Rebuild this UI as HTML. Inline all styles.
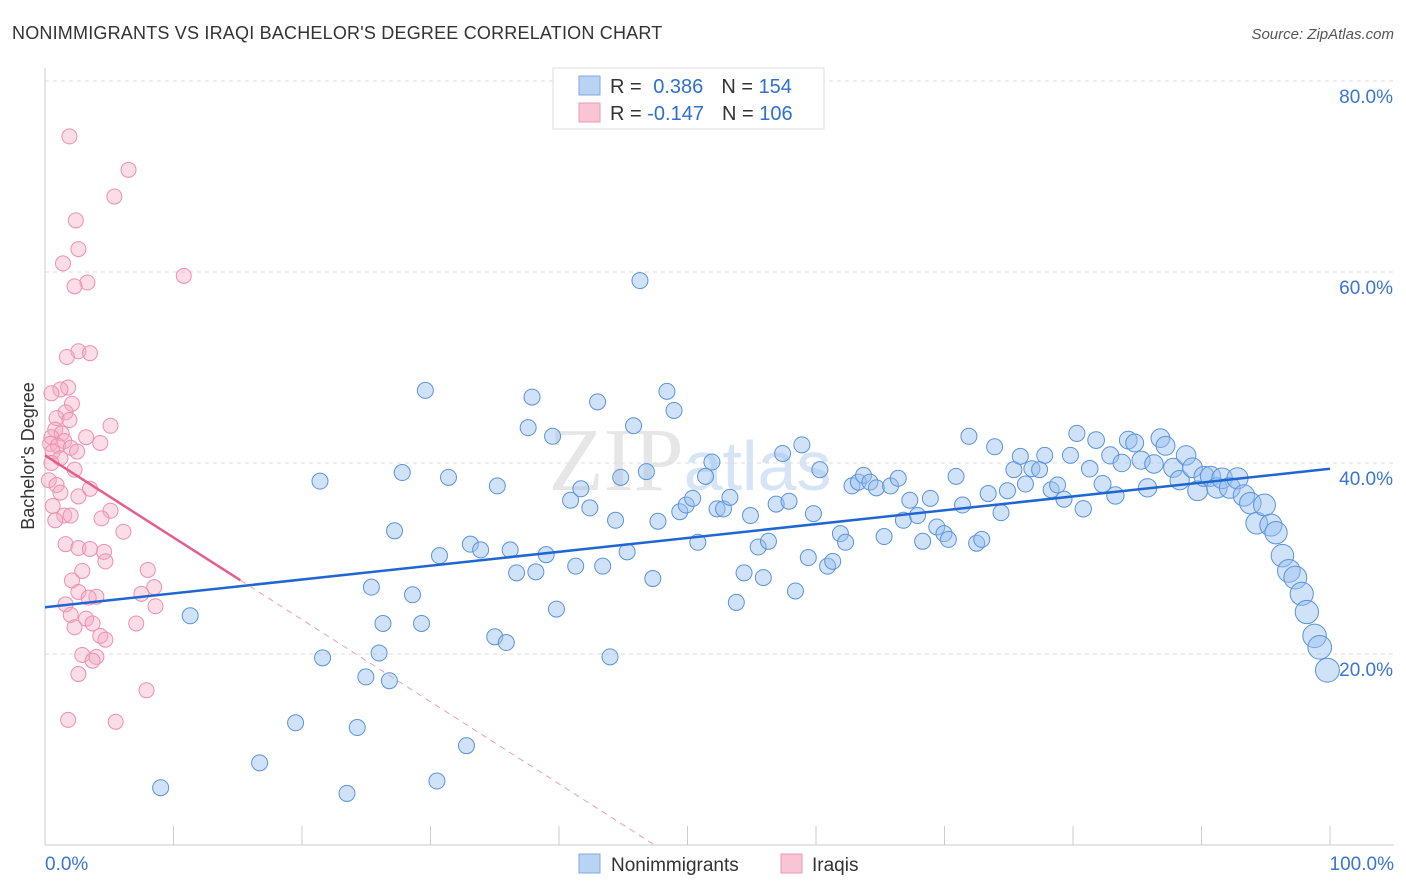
<!DOCTYPE html>
<html><head><meta charset="utf-8"><style>
body{margin:0;background:#fff;font-family:"Liberation Sans",sans-serif;}
svg{display:block}
</style></head><body>
<svg id="chart" width="1406" height="892" xmlns="http://www.w3.org/2000/svg">
<text x="12" y="39" font-size="18" fill="#333" letter-spacing="0.2">NONIMMIGRANTS VS IRAQI BACHELOR'S DEGREE CORRELATION CHART</text>
<text x="1394" y="39" font-size="15" fill="#555" font-style="italic" text-anchor="end">Source: ZipAtlas.com</text>
<text x="690" y="490" font-size="90" fill="#e6e6e6" text-anchor="middle" font-family="Liberation Serif,serif">ZIP<tspan font-family="Liberation Sans,sans-serif" font-size="70" fill="#d6e4f5">atlas</tspan></text>
<g id="grid"></g><g id="axes"></g><g id="marks"></g>
<text transform="translate(34,456) rotate(-90)" font-size="18" fill="#333" text-anchor="middle">Bachelor's Degree</text>
<g>
<rect x="553" y="68" width="271" height="61" fill="#fff" stroke="#ddd"/>
<rect x="579" y="76" width="21" height="19" fill="#b9d3f3" stroke="#7fa9dd"/>
<rect x="579" y="103" width="21" height="19" fill="#f9c5d5" stroke="#ec9ab4"/>
<text x="610" y="93" font-size="20" fill="#333">R = <tspan fill="#2f6fcf" dx="6">0.386</tspan><tspan fill="#333" dx="18">N = </tspan><tspan fill="#2f6fcf">154</tspan></text>
<text x="610" y="120" font-size="20" fill="#333">R = <tspan fill="#2f6fcf">-0.147</tspan><tspan fill="#333" dx="18">N = </tspan><tspan fill="#2f6fcf">106</tspan></text>
</g>
<g>
<rect x="579" y="854" width="21" height="19" fill="#b9d3f3" stroke="#7fa9dd"/>
<text x="611" y="871" font-size="19" fill="#333">Nonimmigrants</text>
<rect x="781" y="854" width="21" height="19" fill="#f9c5d5" stroke="#ec9ab4"/>
<text x="812" y="871" font-size="19" fill="#333">Iraqis</text>
</g>
</svg>
<script>
const yTicks=[20,40,60,80];
const yTickLabels=["20.0%","40.0%","60.0%","80.0%"];
const xTickVals=[0,10,20,30,40,50,60,70,80,90,100];
const xEndLabels=["0.0%","100.0%"];
const blueX=[9.0,11.3,16.7,19.5,21.4,21.6,23.5,24.3,24.97,25.4,26.0,26.3,26.8,27.2,27.8,28.6,29.3,29.6,30.5,30.7,31.4,32.8,33.1,33.9,35.0,35.2,35.9,36.2,36.7,37.6,37.9,38.2,39.0,39.5,39.8,40.9,41.3,41.7,42.4,43.0,43.4,43.97,44.4,44.8,45.3,45.8,46.3,46.8,47.3,47.7,48.4,48.95,49.4,49.9,50.4,50.8,51.4,51.9,52.3,52.8,53.3,53.8,54.4,54.9,55.5,55.9,56.3,56.9,57.4,57.9,58.4,58.9,59.4,59.8,60.3,60.9,61.3,61.9,62.3,62.8,63.3,63.7,64.2,64.7,65.3,65.8,66.4,66.8,67.3,67.9,68.3,68.9,69.4,69.96,70.3,70.9,71.4,71.9,72.5,72.9,73.4,73.9,74.4,74.9,75.4,75.9,76.3,76.8,77.4,77.8,78.3,78.8,79.3,79.8,80.3,80.8,81.3,81.8,82.3,82.9,83.3,83.8,84.3,84.8,85.3,85.8,86.3,86.8,87.2,87.8,88.3,88.8,89.3,89.7,90.2,90.7,91.2,91.6,92.2,92.8,93.3,93.8,94.3,94.9,95.4,95.8,96.3,96.8,97.3,97.8,98.2,98.8,99.2,99.8];
const blueY=[6.0,24.0,8.6,12.8,38.1,19.6,5.4,12.3,17.6,27.0,20.1,23.2,17.2,32.9,39.0,26.2,23.2,47.6,6.7,30.3,38.5,10.4,31.5,30.9,21.8,37.6,21.2,30.9,28.5,43.7,46.9,28.6,30.4,42.8,24.7,36.1,29.2,37.3,35.3,46.4,29.2,19.7,34.0,38.5,30.7,43.9,59.1,39.1,27.9,33.9,47.5,45.5,34.9,35.6,36.3,31.7,38.6,40.1,35.2,35.2,36.4,25.4,28.5,34.5,31.2,28.0,31.8,35.7,41.0,36.0,26.6,41.9,30.1,34.7,39.3,29.2,29.7,32.6,31.7,37.6,38.0,38.7,38.0,37.4,32.3,37.6,38.4,34.0,36.1,34.5,31.8,36.3,33.3,32.6,32.0,38.6,35.6,42.8,31.6,32.0,36.8,41.7,34.8,37.1,39.3,40.7,37.8,39.4,39.3,40.8,37.2,37.7,36.2,40.8,43.1,35.2,39.4,42.4,37.8,40.8,36.6,40.0,42.4,42.1,40.3,37.4,39.9,42.6,41.8,39.5,38.2,40.8,39.5,37.1,38.6,38.6,37.4,38.4,37.4,38.4,36.6,35.8,33.7,35.6,33.5,32.7,30.3,28.7,28.0,26.3,24.4,21.9,20.7,18.3];
const pinkX=[1.9,6.5,5.4,2.4,2.6,1.4,10.8,3.3,2.3,2.6,3.5,1.7,1.8,1.2,0.5,2.1,1.6,0.9,1.9,5.1,0.8,1.3,0.5,3.2,1.5,0.4,1.0,4.3,0.6,2.0,2.5,1.2,0.5,2.3,0.3,0.9,3.5,2.6,1.2,0.6,5.1,1.5,4.4,2.0,0.8,6.1,1.6,2.6,3.5,4.6,4.7,2.9,8.0,2.1,8.5,2.6,7.5,4.0,3.4,1.6,8.6,2.0,3.2,3.7,2.3,7.1,4.3,4.7,2.9,4.0,3.7,2.6,7.9,1.8,5.5];
const pinkY=[74.2,70.7,67.9,65.4,62.4,60.9,59.6,58.9,58.5,51.7,51.5,51.1,47.9,47.7,47.3,46.2,45.3,44.7,44.5,43.9,43.5,43.1,42.7,42.7,42.3,42.0,41.8,42.1,41.2,41.6,41.2,40.5,40.0,39.3,38.2,37.7,37.3,36.5,36.9,35.5,35.0,34.5,34.2,34.5,34.0,32.8,31.5,31.1,31.0,30.7,29.7,28.7,28.8,27.7,27.0,26.5,26.3,26.0,25.9,25.2,25.0,24.1,23.7,23.2,22.8,23.2,21.9,21.5,19.9,19.7,19.3,17.9,16.2,13.1,12.9];
const blueTrend=[24.9,39.4];
const pinkTrend=[40.8,-0.86];
const pinkSolidEnd=15.2;

const NS="http://www.w3.org/2000/svg";
const X=v=>45+v*12.85, Y=v=>845-v*9.55;
function mk(tag,attrs,parent){const e=document.createElementNS(NS,tag);for(const k in attrs)e.setAttribute(k,attrs[k]);parent.appendChild(e);return e;}
const grid=document.getElementById('grid'),axes=document.getElementById('axes'),marks=document.getElementById('marks');
yTicks.forEach((t,i)=>{
  const l=mk('line',{x1:45,x2:1394,y1:Y(t),y2:Y(t),stroke:'#ddd','stroke-dasharray':'4,4'},grid);
  
  
  const tx=mk('text',{x:1393,y:Y(t)+22,'font-size':19,fill:'#3a75d0','text-anchor':'end'},axes);
  tx.textContent=yTickLabels[i];
  
  
});
const ax=mk('line',{x1:45,x2:45,y1:68,y2:845,stroke:'#ccc'},axes);


const bx=mk('line',{x1:45,x2:1394,y1:845,y2:845,stroke:'#ccc'},axes);


xTickVals.forEach(t=>{
  const l=mk('line',{x1:X(t),x2:X(t),y1:826,y2:845,stroke:'#ccc'},axes);
  
  
});
[[0,'start',45],[100,'end',1394]].forEach((d,i)=>{
  const tx=mk('text',{x:d[2],y:870,'font-size':19,fill:'#3a75d0','text-anchor':d[1]},axes);
  tx.textContent=xEndLabels[i];
  
  
});
pinkX.forEach((x,i)=>{
  const c=mk('circle',{cx:X(x),cy:Y(pinkY[i]),r:7.5,fill:'rgba(246,170,195,0.4)',stroke:'#ee8fae','stroke-width':1},marks);
  
  
});
blueX.forEach((x,i)=>{
  const r=8+Math.max(0,x-80)*0.2;
  const c=mk('circle',{cx:X(x),cy:Y(blueY[i]),r:r,fill:'rgba(150,190,240,0.45)',stroke:'#5a93dc','stroke-width':1},marks);
  
  
});
const bt=mk('line',{x1:X(0),y1:Y(blueTrend[0]),x2:X(100),y2:Y(blueTrend[1]),stroke:'#1f66d1','stroke-width':2.5},marks);


const pz=-pinkTrend[0]/pinkTrend[1];
const pd=mk('line',{x1:X(pinkSolidEnd),y1:Y(pinkTrend[0]+pinkTrend[1]*pinkSolidEnd),x2:X(pz),y2:Y(0),stroke:'#e8a0b8','stroke-width':1,'stroke-dasharray':'6,5'},marks);


const pt=mk('line',{x1:X(0),y1:Y(pinkTrend[0]),x2:X(pinkSolidEnd),y2:Y(pinkTrend[0]+pinkTrend[1]*pinkSolidEnd),stroke:'#e4608c','stroke-width':2.5},marks);


</script>
</body></html>
